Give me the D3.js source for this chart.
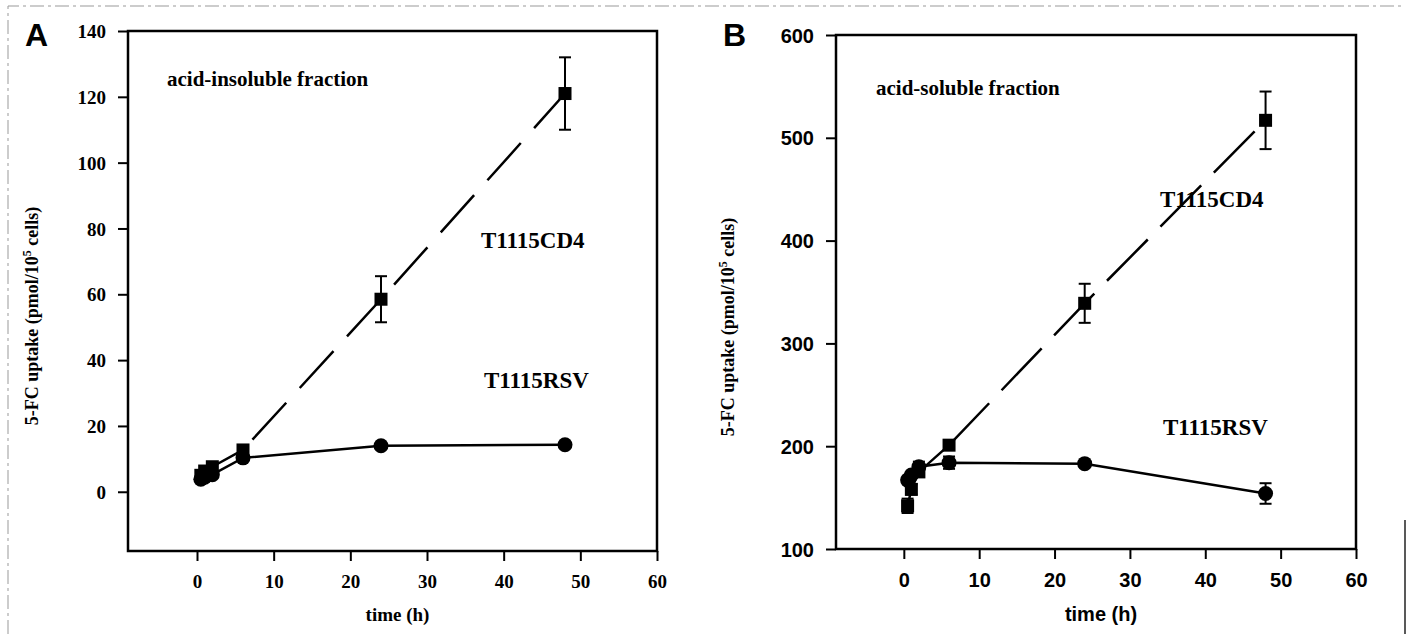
<!DOCTYPE html>
<html lang="en">
<head>
    <meta charset="UTF-8">
    <title>5-FC uptake</title>
    <script src="https://d3js.org/d3.v7.min.js"></script>
    <style>
        body { margin: 0; background: #fff; }
        svg { display: block; }
    </style>
</head>
<body>
    <div id="chart"></div>

    <script>
        // data (time in h, uptake in pmol/10^5 cells)
        const times = [0.5, 1, 2, 6, 24, 48];
        const xTicks = [0, 10, 20, 30, 40, 50, 60];

        const cd4A = [5, 6.3, 7.6, 12.7, 58.5, 121];
        const cd4AErr = [0, 0, 0, 0, 7, 11];
        const rsvA = [3.8, 4.4, 5.2, 10.3, 14, 14.3];
        const rsvAErr = [0, 0, 0, 0, 0, 0];
        const yTicksA = [0, 20, 40, 60, 80, 100, 120, 140];

        const cd4B = [142, 158, 175, 201, 339, 517];
        const cd4BErr = [7, 5, 4, 0, 19, 28];
        const rsvB = [167, 172, 180, 184, 183, 154];
        const rsvBErr = [0, 0, 5, 6, 0, 10];
        const yTicksB = [100, 200, 300, 400, 500, 600];

        const svg = d3.select("#chart")
                      .append("svg")
                      .attr("width", 1408)
                      .attr("height", 634);

        // faint scan border
        svg.append("path")
           .attr("d", "M8,634 V6 H1404")
           .attr("fill", "none")
           .attr("stroke", "#999")
           .attr("stroke-width", 1)
           .attr("stroke-dasharray", "14,4,3,4");
        svg.append("line")
           .attr("x1", 1405).attr("x2", 1405)
           .attr("y1", 520).attr("y2", 634)
           .attr("stroke", "#222").attr("stroke-width", 1.5);

        const serif = "'Liberation Serif', 'Times New Roman', serif";
        const sans = "'Liberation Sans', Arial, sans-serif";

        function drawPanel(p) {
            const g = svg.append("g");
            const x = d3.scaleLinear().domain([-9, 60]).range([p.left, p.right]);
            const y = d3.scaleLinear().domain(p.yDomain).range([p.bottom, p.top]);

            // frame
            g.append("rect")
             .attr("x", p.left).attr("y", p.top)
             .attr("width", p.right - p.left).attr("height", p.bottom - p.top)
             .attr("fill", "none").attr("stroke", "#000").attr("stroke-width", 2.5);

            // axes
            const xAxis = g.append("g")
                .attr("transform", `translate(0,${p.bottom})`)
                .call(d3.axisBottom(x).tickValues(xTicks).tickSize(10).tickPadding(14).tickSizeOuter(0));
            const yAxis = g.append("g")
                .attr("transform", `translate(${p.left},0)`)
                .call(d3.axisLeft(y).tickValues(p.yTicks).tickSize(10).tickPadding(12).tickSizeOuter(0));
            [xAxis, yAxis].forEach(a => {
                a.select(".domain").remove();
                a.selectAll(".tick line").attr("stroke", "#000").attr("stroke-width", 2);
                a.selectAll("text")
                 .attr("fill", "#000")
                 .attr("font-family", p.tickFont)
                 .attr("font-weight", "bold")
                 .attr("font-size", p.tickSize);
            });
            yAxis.selectAll("text").attr("dy", "0.35em");

            // panel letter
            g.append("text")
             .attr("x", p.letterX).attr("y", 46)
             .attr("font-family", sans).attr("font-weight", 900)
             .attr("font-size", 32)
             .text(p.letter);

            // axis titles
            g.append("text")
             .attr("x", (p.left + p.right) / 2 + 5).attr("y", 621)
             .attr("text-anchor", "middle")
             .attr("font-family", p.tickFont).attr("font-weight", "bold")
             .attr("font-size", p.titleSize)
             .text("time (h)");

            const yt = g.append("text")
             .attr("transform", `translate(${p.yTitleX},${p.yTitleY}) rotate(-90)`)
             .attr("text-anchor", "middle")
             .attr("font-family", serif).attr("font-weight", "bold")
             .attr("font-size", 18);
            yt.append("tspan").text("5-FC uptake (pmol/10");
            yt.append("tspan").attr("font-size", 12).attr("dy", -7).text("5");
            yt.append("tspan").attr("dy", 7).text(" cells)");

            // annotations
            g.append("text")
             .attr("x", p.fracX).attr("y", p.fracY)
             .attr("font-family", serif).attr("font-weight", "bold")
             .attr("font-size", 21)
             .text(p.fraction);
            p.seriesLabels.forEach(s => {
                g.append("text")
                 .attr("x", s.x).attr("y", s.y)
                 .attr("font-family", serif).attr("font-weight", "bold")
                 .attr("font-size", 23)
                 .text(s.text);
            });

            // lines
            const line = d3.line().x(d => x(d[0])).y(d => y(d[1]));
            const cd4 = times.map((t, i) => [t, p.cd4[i]]);
            const rsv = times.map((t, i) => [t, p.rsv[i]]);
            const lineStyle = sel => sel.attr("fill", "none").attr("stroke", "#000").attr("stroke-width", 2.5);

            g.append("path").datum(rsv).attr("d", line).call(lineStyle);
            g.append("path").datum(cd4.slice(0, 4)).attr("d", line).call(lineStyle);
            g.append("path").datum(cd4.slice(3)).attr("d", line).call(lineStyle)
             .attr("stroke-dasharray", p.dash).attr("stroke-dashoffset", p.dashOffset);

            // error bars
            function errorBars(vals, errs) {
                const data = times.map((t, i) => ({ t: t, v: vals[i], e: errs[i] })).filter(d => d.e > 0);
                const eb = g.append("g").attr("stroke", "#000").attr("stroke-width", 2);
                data.forEach(d => {
                    eb.append("line")
                      .attr("x1", x(d.t)).attr("x2", x(d.t))
                      .attr("y1", y(d.v - d.e)).attr("y2", y(d.v + d.e));
                    [d.v - d.e, d.v + d.e].forEach(v => {
                        eb.append("line")
                          .attr("x1", x(d.t) - 6).attr("x2", x(d.t) + 6)
                          .attr("y1", y(v)).attr("y2", y(v));
                    });
                });
            }
            errorBars(p.cd4, p.cd4Err);
            errorBars(p.rsv, p.rsvErr);

            // markers
            g.selectAll(".circ")
             .data(rsv).enter().append("circle")
             .attr("cx", d => x(d[0])).attr("cy", d => y(d[1]))
             .attr("r", 7.5).attr("fill", "#000");
            g.selectAll(".sq")
             .data(cd4).enter().append("rect")
             .attr("x", d => x(d[0]) - 6.5).attr("y", d => y(d[1]) - 6.5)
             .attr("width", 13).attr("height", 13).attr("fill", "#000");
        }

        drawPanel({
            letter: "A", letterX: 25,
            left: 128, right: 657, top: 31, bottom: 551,
            yDomain: [-18, 140], yTicks: yTicksA,
            tickFont: serif, tickSize: 19, titleSize: 19,
            yTitleX: 38, yTitleY: 316,
            fraction: "acid-insoluble fraction", fracX: 167, fracY: 86,
            seriesLabels: [
                { text: "T1115CD4", x: 481, y: 248 },
                { text: "T1115RSV", x: 484, y: 388 }
            ],
            cd4: cd4A, cd4Err: cd4AErr, rsv: rsvA, rsvErr: rsvAErr,
            dash: "50,20", dashOffset: -14
        });

        drawPanel({
            letter: "B", letterX: 723,
            left: 836, right: 1356, top: 35, bottom: 549,
            yDomain: [100, 600], yTicks: yTicksB,
            tickFont: sans, tickSize: 20, titleSize: 20,
            yTitleX: 734, yTitleY: 327,
            fraction: "acid-soluble fraction", fracX: 876, fracY: 95,
            seriesLabels: [
                { text: "T1115CD4", x: 1160, y: 207 },
                { text: "T1115RSV", x: 1163, y: 435 }
            ],
            cd4: cd4B, cd4Err: cd4BErr, rsv: rsvB, rsvErr: rsvBErr,
            dash: "58,18", dashOffset: 0
        });
    </script>
</body>
</html>
